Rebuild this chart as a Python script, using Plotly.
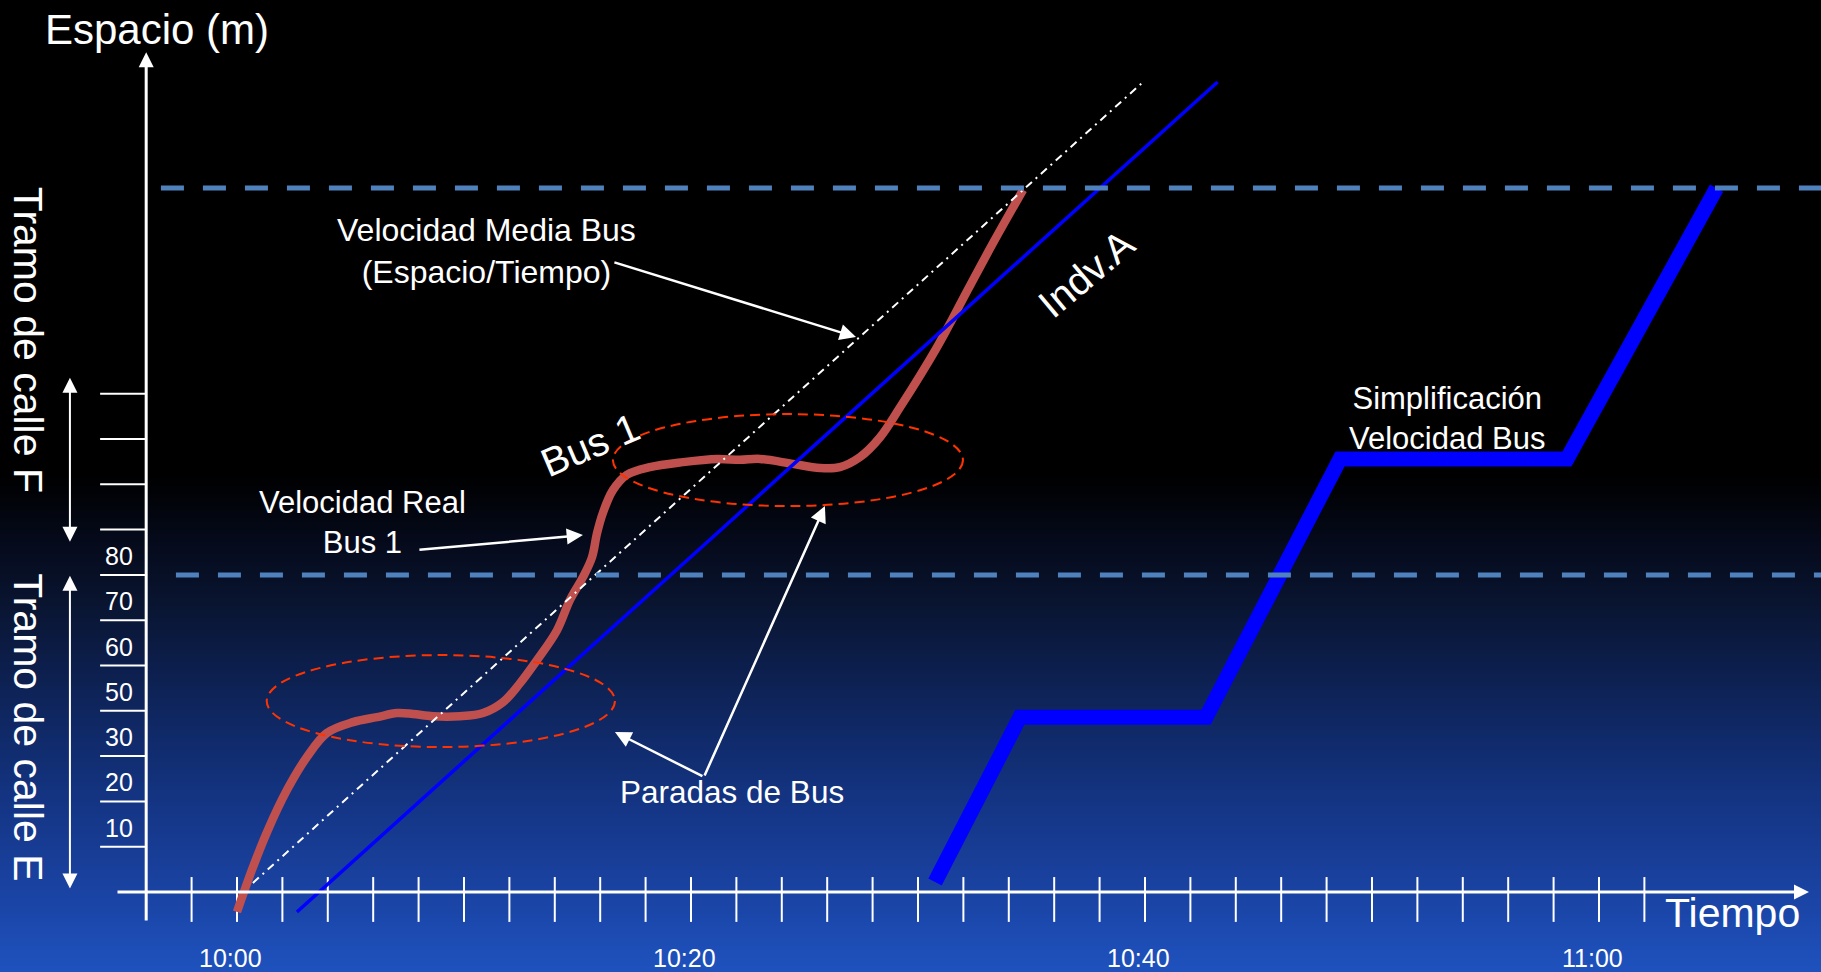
import plotly.graph_objects as go

W, H = 1821, 972
FONT = "Liberation Sans, Arial, sans-serif"

# ---- data (time in minutes after 10:00, space in metres) ----
time_ticks = list(range(-2, 64, 2))
time_label_pos = [0, 20, 40, 60]
time_label_txt = ["10:00", "10:20", "10:40", "11:00"]

space_ticks = [10, 20, 30, 40, 50, 60, 70, 80, 90, 100, 110]
space_label_pos = [10, 20, 30, 40, 50, 60, 70]
space_label_txt = ["10", "20", "30", "50", "60", "70", "80"]

# real trajectory of Bus 1
bus_t = [0.00, 0.66, 1.32, 2.20, 3.08, 3.96, 5.11, 6.17, 7.05, 7.75, 8.63, 9.82,
         10.84, 11.72, 12.47, 13.22, 14.10, 14.67, 15.24, 15.64, 15.86, 16.12,
         16.56, 17.18, 18.19, 19.65, 21.15, 22.16, 23.04, 24.49, 25.68, 26.56,
         27.44, 28.33, 29.21, 30.84, 32.16, 33.30, 34.63]
bus_s = [-4.4, 4.9, 13.2, 22.5, 29.8, 35.1, 37.5, 38.6, 39.5, 39.3, 38.8, 38.8,
         39.5, 41.9, 46.1, 51.2, 57.8, 64.5, 69.5, 73.9, 79.2, 83.7,
         88.7, 92.1, 93.8, 94.9, 95.6, 95.4, 95.6, 94.5, 93.6, 93.8,
         96.0, 100.4, 107.0, 120.3, 132.6, 143.2, 155.0]

# mean bus speed (space / time)
mean_t = [0.7, 39.87]
mean_s = [2.0, 178.6]

# individual A
indv_t = [2.64, 43.2]
indv_s = [-4.4, 178.8]

# simplified bus speed profile
simp_t = [30.75, 34.49, 42.69, 48.59, 58.59, 65.18]
simp_s = [2.2, 38.6, 38.6, 95.6, 95.6, 155.4]

# street section boundaries
section_s = [70.0, 155.4]
section_start_t = [-2.69, -3.35]

# bus stops (ellipse bounds: t0, t1, s0, s1)
stop_t0 = [1.31, 16.56]
stop_t1 = [16.65, 31.98]
stop_s0 = [32.0, 85.2]
stop_s1 = [52.3, 105.5]

X_RANGE = [-10.44, 69.78]
Y_RANGE = [-17.66, 196.91]

fig = go.Figure()

# ---- background gradient (black top, blue bottom) ----
stops = [(0.0, (0, 0, 0)), (0.49, (0, 0, 0)), (0.555, (5, 10, 26)),
         (0.62, (9, 20, 48)), (0.72, (14, 36, 90)), (0.82, (20, 52, 130)),
         (0.925, (26, 68, 165)), (1.0, (31, 82, 190))]


def grad_color(f):
    for (f0, c0), (f1, c1) in zip(stops[:-1], stops[1:]):
        if f0 <= f <= f1:
            k = 0 if f1 == f0 else (f - f0) / (f1 - f0)
            return "rgb(%d,%d,%d)" % tuple(round(a + (b - a) * k) for a, b in zip(c0, c1))
    return "rgb(%d,%d,%d)" % stops[-1][1]


shapes = []
band = 4
top = 470
while top < H:
    mid = (top + band / 2) / H
    shapes.append(dict(type="rect", xref="paper", yref="paper", layer="below",
                       x0=0, x1=1, y0=1 - (top + band + 0.5) / H, y1=1 - top / H,
                       fillcolor=grad_color(mid), line=dict(width=0)))
    top += band

# bus stop ellipses
for t0, t1, s0, s1 in zip(stop_t0, stop_t1, stop_s0, stop_s1):
    shapes.append(dict(type="circle", xref="x", yref="y", x0=t0, x1=t1, y0=s0, y1=s1,
                       line=dict(color="rgb(255,51,0)", width=2, dash="10px,6px")))

# ---- axes ticks ----
tx, ty = [], []
for t in time_ticks:
    tx += [t, t, None]
    ty += [3.3, -6.6, None]
fig.add_trace(go.Scatter(x=tx, y=ty, mode="lines", line=dict(color="white", width=2),
                         hoverinfo="skip", showlegend=False))
sx, sy = [], []
for s in space_ticks:
    sx += [-6.03, -4.0, None]
    sy += [s, s, None]
fig.add_trace(go.Scatter(x=sx, y=sy, mode="lines", line=dict(color="white", width=2),
                         hoverinfo="skip", showlegend=False))

# ---- trajectories ----
fig.add_trace(go.Scatter(x=bus_t, y=bus_s, mode="lines",
                         line=dict(color="rgb(192,80,77)", width=8.5, shape="spline", smoothing=1.0),
                         hoverinfo="skip", showlegend=False))
fig.add_trace(go.Scatter(x=indv_t, y=indv_s, mode="lines",
                         line=dict(color="rgb(0,0,255)", width=3.5),
                         hoverinfo="skip", showlegend=False))
fig.add_trace(go.Scatter(x=mean_t, y=mean_s, mode="lines",
                         line=dict(color="white", width=2, dash="8px,5px,2px,5px"),
                         hoverinfo="skip", showlegend=False))
fig.add_trace(go.Scatter(x=simp_t, y=simp_s, mode="lines",
                         line=dict(color="rgb(0,0,255)", width=15),
                         hoverinfo="skip", showlegend=False))
for s, t0 in zip(section_s, section_start_t):
    fig.add_trace(go.Scatter(x=[t0, X_RANGE[1]], y=[s, s], mode="lines",
                             line=dict(color="rgb(79,129,189)", width=5, dash="23px,19px"),
                             hoverinfo="skip", showlegend=False))

# ---- annotations ----
ann = []


def arrow(x, y, ax, ay, width=2.5, size=1.3, both=False):
    return dict(x=x, y=y, ax=ax, ay=ay, xref="x", yref="y", axref="x", ayref="y",
                text="", showarrow=True, arrowhead=2, arrowsize=size, arrowwidth=width,
                arrowcolor="white", arrowside="end+start" if both else "end",
                startarrowhead=2, startarrowsize=size, standoff=0, startstandoff=0)


def label(x, y, text, size, angle=0, xshift=0, yshift=0):
    return dict(x=x, y=y, xref="x", yref="y", text=text, showarrow=False,
                textangle=angle, xshift=xshift, yshift=yshift,
                font=dict(family=FONT, size=size, color="white"),
                xanchor="center", yanchor="middle")


# axis lines with arrow heads
ann.append(arrow(-4.0, 185.4, -4.0, -6.6, width=3, size=1.0))
ann.append(arrow(69.25, 0, -5.33, 0, width=3, size=1.0))
# street section double arrows
ann.append(arrow(-7.36, 113.5, -7.36, 77.0, width=2, size=1.5, both=True))
ann.append(arrow(-7.36, 69.8, -7.36, 0.44, width=2, size=1.5, both=True))
# pointers
ann.append(arrow(27.27, 122.5, 16.56, 139.1))
ann.append(arrow(15.24, 78.8, 7.97, 75.5))
ann.append(arrow(16.65, 35.3, 20.57, 25.4))
ann.append(arrow(25.90, 85.2, 20.57, 25.4))

# tick labels
for t, txt in zip(time_label_pos, time_label_txt):
    ann.append(label(t, -14.5, txt, 25, xshift=-6))
for s, txt in zip(space_label_pos, space_label_txt):
    ann.append(label(-5.2, s, txt, 25, yshift=19))

# titles and notes
ann.append(label(-3.52, 190.5, "Espacio (m)", 42))
ann.append(label(65.86, -4.6, "Tiempo", 41))
ann.append(label(-9.21, 121.9, "Tramo de calle F", 41, angle=90))
ann.append(label(-9.21, 36.4, "Tramo de calle E", 41, angle=90))
ann.append(label(11.01, 141.5, "Velocidad Media Bus<br>(Espacio/Tiempo)", 32))
ann.append(label(5.51, 81.5, "Velocidad Real<br>Bus 1", 31))
ann.append(label(21.81, 22.1, "Paradas de Bus", 31.5))
ann.append(label(53.30, 104.6, "Simplificación<br>Velocidad Bus", 31))
ann.append(label(15.55, 98.7, "Bus 1", 40, angle=-23))
ann.append(label(37.44, 136.6, "Indv.A", 40, angle=-40))

fig.update_layout(
    width=W, height=H, autosize=False,
    margin=dict(l=0, r=0, t=0, b=0, pad=0),
    paper_bgcolor="black", plot_bgcolor="black",
    xaxis=dict(range=X_RANGE, visible=False, fixedrange=True),
    yaxis=dict(range=Y_RANGE, visible=False, fixedrange=True),
    shapes=shapes, annotations=ann, showlegend=False,
    font=dict(family=FONT, color="white"),
)

fig.write_html("out.html", config={"displayModeBar": False})
